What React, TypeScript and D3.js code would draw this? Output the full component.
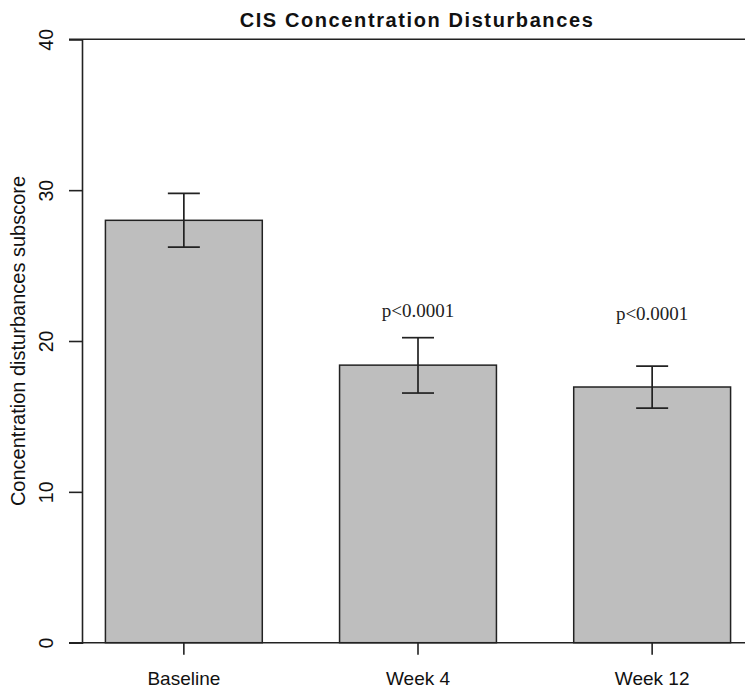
import React, { useEffect, useRef } from "react";
import * as d3 from "d3";

// values
const categories = ["Baseline", "Week 4", "Week 12"];
const means = [28.0, 18.4, 16.95];
const errLow = [26.22, 16.55, 15.55];
const errHigh = [29.78, 20.22, 18.34];
const pLabels = ["", "p<0.0001", "p<0.0001"];
const pLabelY = [0, 22.05, 21.85];
const yTicks = [0, 10, 20, 30, 40];

const App = () => {
  const svgRef = useRef<SVGSVGElement>(null);

  useEffect(() => {
    const width = 745;
    const height = 690;
    const axisX = 82;
    const tickLen = 13;

    const svg = d3.select(svgRef.current).attr("width", width).attr("height", height);
    svg.selectAll("*").remove();

    const x = d3
      .scaleBand()
      .domain(categories)
      .range([82, 754])
      .paddingInner(0.33)
      .paddingOuter(0.1);

    const y = d3.scaleLinear().domain([0, 40]).range([642.7, 39.3]);

    const stroke = "#222";

    // bars
    svg
      .append("g")
      .selectAll("rect")
      .data(categories)
      .join("rect")
      .attr("x", (d) => x(d)!)
      .attr("y", (d, i) => y(means[i]))
      .attr("width", x.bandwidth())
      .attr("height", (d, i) => y(0) - y(means[i]))
      .attr("fill", "#bebebe")
      .attr("stroke", stroke)
      .attr("stroke-width", 1.5);

    // horizontal frame lines at 0 and 40
    [0, 40].forEach((v) => {
      svg
        .append("line")
        .attr("x1", axisX - tickLen)
        .attr("x2", width)
        .attr("y1", y(v))
        .attr("y2", y(v))
        .attr("stroke", stroke)
        .attr("stroke-width", 1.6);
    });

    // y-axis
    const yAxis = svg
      .append("g")
      .attr("transform", `translate(${axisX},0)`)
      .call(d3.axisLeft(y).tickValues(yTicks).tickSize(tickLen).tickFormat(d3.format("d")));
    yAxis.select(".domain").attr("stroke", stroke).attr("stroke-width", 1.6);
    yAxis.selectAll(".tick line").attr("stroke", stroke).attr("stroke-width", 1.6);
    yAxis
      .selectAll(".tick text")
      .attr("font-family", "Liberation Sans, Arial, sans-serif")
      .attr("font-size", 19.5)
      .attr("fill", "#111")
      .attr("transform", "rotate(-90)")
      .attr("x", 0)
      .attr("y", -29)
      .attr("dy", 0)
      .attr("text-anchor", "middle");

    // x-axis ticks and labels
    const xAxis = svg
      .append("g")
      .attr("transform", `translate(0,${y(0)})`)
      .call(d3.axisBottom(x).tickSize(12).tickPadding(30));
    xAxis.select(".domain").remove();
    xAxis.selectAll(".tick line").attr("stroke", stroke).attr("stroke-width", 1.6);
    xAxis
      .selectAll(".tick text")
      .attr("font-family", "Liberation Sans, Arial, sans-serif")
      .attr("font-size", 19)
      .attr("fill", "#111")
      .attr("dy", 0)
      .attr("y", 42);

    // error bars
    const cap = 16;
    const eb = svg.append("g").attr("stroke", stroke).attr("stroke-width", 1.7);
    categories.forEach((c, i) => {
      const cx = x(c)! + x.bandwidth() / 2;
      eb.append("line").attr("x1", cx).attr("x2", cx).attr("y1", y(errLow[i])).attr("y2", y(errHigh[i]));
      eb.append("line").attr("x1", cx - cap).attr("x2", cx + cap).attr("y1", y(errLow[i])).attr("y2", y(errLow[i]));
      eb.append("line").attr("x1", cx - cap).attr("x2", cx + cap).attr("y1", y(errHigh[i])).attr("y2", y(errHigh[i]));
    });

    // p-value annotations
    svg
      .append("g")
      .selectAll("text")
      .data(categories)
      .join("text")
      .attr("x", (d) => x(d)! + x.bandwidth() / 2)
      .attr("y", (d, i) => y(pLabelY[i]))
      .attr("dy", "0.35em")
      .attr("text-anchor", "middle")
      .attr("font-family", "Liberation Serif, Times New Roman, serif")
      .attr("font-size", 19)
      .attr("fill", "#222")
      .text((d, i) => pLabels[i]);

    // title
    svg
      .append("text")
      .attr("x", 417)
      .attr("y", 27)
      .attr("text-anchor", "middle")
      .attr("font-family", "Liberation Sans, Arial, sans-serif")
      .attr("font-weight", "bold")
      .attr("font-size", 20)
      .attr("letter-spacing", 1.6)
      .attr("fill", "#111")
      .text("CIS Concentration Disturbances");

    // y-axis label
    svg
      .append("text")
      .attr("transform", `translate(25,${(y(0) + y(40)) / 2}) rotate(-90)`)
      .attr("text-anchor", "middle")
      .attr("font-family", "Liberation Sans, Arial, sans-serif")
      .attr("font-size", 20)
      .attr("fill", "#111")
      .text("Concentration disturbances subscore");
  }, []);

  return (
    <div style={{ position: "absolute", left: 0, top: 0, background: "#fff" }}>
      <svg ref={svgRef} style={{ display: "block" }}></svg>
    </div>
  );
};

export default App;
